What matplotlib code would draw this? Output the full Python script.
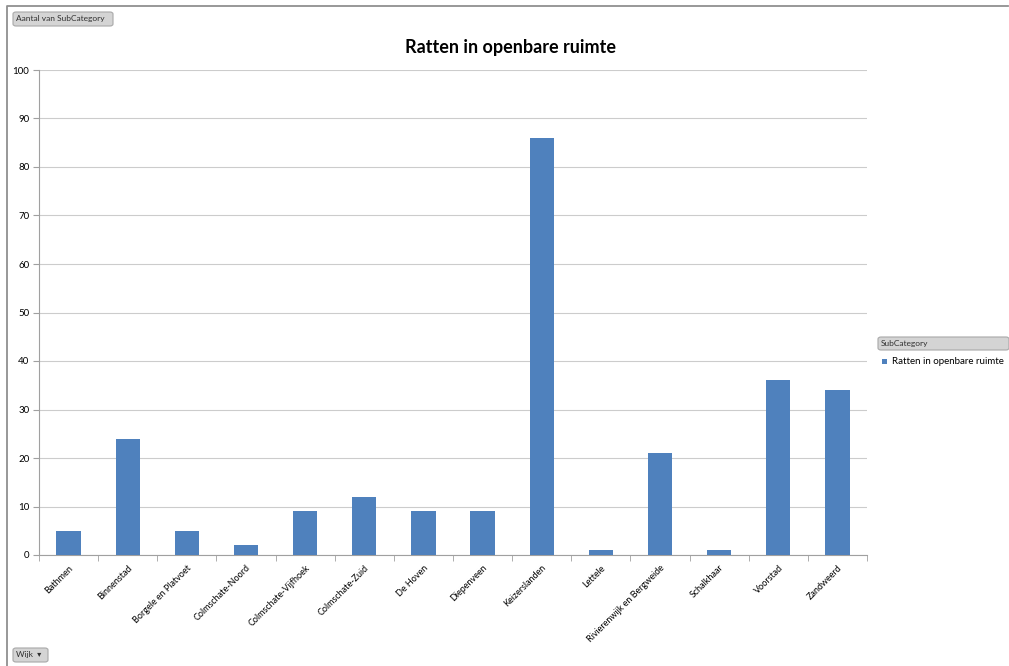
import numpy as np
import matplotlib.pyplot as plt
from matplotlib.patches import FancyBboxPatch, Rectangle
from matplotlib.lines import Line2D

wijken = ['Bathmen', 'Binnenstad', 'Borgele en Platvoet', 'Colmschate-Noord',
          'Colmschate-Vijfhoek', 'Colmschate-Zuid', 'De Hoven', 'Diepenveen',
          'Keizerslanden', 'Lettele', 'Rivierenwijk en Bergweide', 'Schalkhaar',
          'Voorstad', 'Zandweerd']
aantal = [5, 24, 5, 2, 9, 12, 9, 9, 86, 1, 21, 1, 36, 34]
serie = 'Ratten in openbare ruimte'

plt.rcParams['font.family'] = ['Lato', 'DejaVu Sans']

fig = plt.figure(figsize=(10.09, 6.66), dpi=100)
ax = fig.add_axes([39 / 1009, 1 - 555 / 666, (867 - 39) / 1009, (555 - 70) / 666])

x = np.arange(len(wijken))
ax.bar(x, aantal, width=0.41, color='#4F81BD', zorder=3)

ax.set_xlim(-0.5, len(wijken) - 0.5)
ax.set_ylim(0, 100)
ax.set_yticks(range(0, 101, 10))
ax.grid(axis='y', color='#cccccc', linewidth=0.8, zorder=0)
ax.tick_params(axis='y', labelsize=7, length=4, color='#a0a0a0', pad=3)
ax.set_xticks(x)
ax.set_xticklabels(wijken, rotation=45, ha='right', rotation_mode='anchor', fontsize=6.5)
ax.tick_params(axis='x', length=0, pad=6)
ax.set_xticks(np.arange(-0.5, len(wijken)), minor=True)
ax.tick_params(axis='x', which='minor', length=4, color='#a0a0a0')
for s in ['top', 'right']:
    ax.spines[s].set_visible(False)
ax.spines['left'].set_color('#a0a0a0')
ax.spines['bottom'].set_color('#a0a0a0')

fig.text(511 / 1009, 1 - 47 / 666, serie, fontsize=13, fontweight='bold',
         ha='center', va='center')

# frame: only top and left edges
fig.lines.append(Line2D([7 / 1009, 7 / 1009, 1008 / 1009], [0, 1 - 6 / 666, 1 - 6 / 666],
                        transform=fig.transFigure, color='#909090', linewidth=1.3))


def knop(x0, y0, w, h, tekst):
    fig.patches.append(FancyBboxPatch((x0 / 1009, 1 - (y0 + h) / 666), w / 1009, h / 666,
                                      boxstyle='round,pad=0,rounding_size=0.003',
                                      transform=fig.transFigure, facecolor='#d4d4d4',
                                      edgecolor='#a8a8a8', linewidth=0.8))
    fig.text((x0 + 3) / 1009, 1 - (y0 + h / 2) / 666, tekst, fontsize=6,
             va='center', ha='left', color='#303030')


knop(13, 12, 100, 14, 'Aantal van SubCategory')
knop(13, 648, 35, 14, 'Wijk  \u25be')
knop(878, 337, 131, 13, 'SubCategory')

fig.patches.append(Rectangle((882 / 1009, 1 - 364 / 666), 5 / 1009, 5 / 666,
                             transform=fig.transFigure, facecolor='#4F81BD',
                             edgecolor='none'))
fig.text(892 / 1009, 1 - 361.5 / 666, serie, fontsize=7, va='center', ha='left')

fig.savefig('out.png', dpi=100)
